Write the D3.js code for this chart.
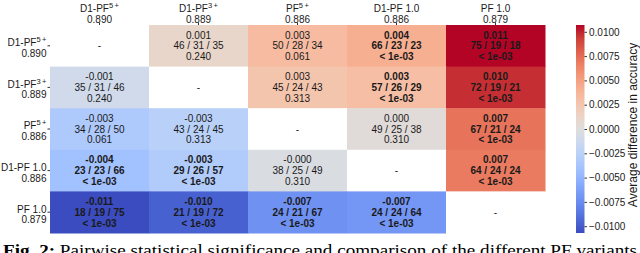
<!DOCTYPE html>
<html>
<head>
<meta charset="utf-8">
<script src="https://cdn.jsdelivr.net/npm/d3@7"></script>
<style>
  body { margin: 0; background: #fff; }
  svg { display: block; }
  text { font-family: "Liberation Sans", Arial, sans-serif; }
</style>
</head>
<body>
<div id="chart"></div>
<script>
// model names, superscripts and their mean accuracy
var modelNames = ["D1-PF", "D1-PF", "PF", "D1-PF 1.0", "PF 1.0"];
var modelSups = ["5\u2009+", "3\u2009+", "5\u2009+", "", ""];
var accuracies = ["0.890", "0.889", "0.886", "0.886", "0.879"];

// average difference in accuracy (row minus column), null on the diagonal
var diffs = [
    [null, 0.0010, 0.0033, 0.0041, 0.0107],
    [-0.0010, null, 0.0026, 0.0031, 0.0097],
    [-0.0033, -0.0026, null, 0.0003, 0.0072],
    [-0.0041, -0.0031, -0.0003, null, 0.0069],
    [-0.0107, -0.0097, -0.0072, -0.0069, null]
];

// wins / ties / losses
var counts = [
    [null, "46 / 31 / 35", "50 / 28 / 34", "66 / 23 / 23", "75 / 19 / 18"],
    ["35 / 31 / 46", null, "45 / 24 / 43", "57 / 26 / 29", "72 / 19 / 21"],
    ["34 / 28 / 50", "43 / 24 / 45", null, "49 / 25 / 38", "67 / 21 / 24"],
    ["23 / 23 / 66", "29 / 26 / 57", "38 / 25 / 49", null, "64 / 24 / 24"],
    ["18 / 19 / 75", "21 / 19 / 72", "24 / 21 / 67", "24 / 24 / 64", null]
];

// p-values (0 means < 1e-03)
var pvalues = [
    [null, 0.240, 0.061, 0, 0],
    [0.240, null, 0.313, 0, 0],
    [0.061, 0.313, null, 0.310, 0],
    [0, 0, 0.310, null, 0],
    [0, 0, 0, 0, null]
];

var cbTicks = [-0.01, -0.0075, -0.005, -0.0025, 0, 0.0025, 0.005, 0.0075, 0.01];
var vmax = 0.0107;

var width = 640, height = 253;
var textColor = "#1a1a1a";

// matplotlib coolwarm (Moreland table)
var coolwarm = d3.piecewise(d3.interpolateRgb, [
    "rgb(59,76,192)", "rgb(77,104,215)", "rgb(98,130,234)", "rgb(119,154,247)",
    "rgb(141,176,254)", "rgb(163,194,255)", "rgb(184,208,249)", "rgb(204,217,238)",
    "rgb(221,221,221)", "rgb(236,211,197)", "rgb(245,196,172)", "rgb(247,177,148)",
    "rgb(244,154,123)", "rgb(236,127,99)", "rgb(222,96,77)", "rgb(203,62,56)",
    "rgb(180,4,38)"
]);
var color = d3.scaleSequential(coolwarm).domain([-vmax, vmax]);

var svg = d3.select("#chart").append("svg")
    .attr("width", width)
    .attr("height", height);

var idx = d3.range(modelNames.length);

var x = d3.scaleBand().domain(idx).range([50, 545]);
var y = d3.scaleBand().domain(idx).range([25, 233]);

// cells
var cells = [];
idx.forEach(function(i) {
    idx.forEach(function(j) {
        cells.push({row: i, col: j, diff: diffs[i][j], count: counts[i][j], p: pvalues[i][j]});
    });
});

var cellG = svg.append("g")
    .selectAll("g")
    .data(cells)
    .enter().append("g")
    .attr("transform", function(d) {
        return "translate(" + x(d.col) + "," + y(d.row) + ")";
    });

cellG.append("rect")
    .attr("width", x.bandwidth() + 0.5)
    .attr("height", y.bandwidth() + 0.5)
    .attr("fill", function(d) {
        return d.diff === null ? "#fff" : color(d.diff);
    });

function fmtDiff(v) {
    return (v < 0 ? "-" : "") + Math.abs(v).toFixed(3);
}

var cx = x.bandwidth() / 2, cy = y.bandwidth() / 2;
var lh = 10.8;

cellG.each(function(d) {
    var g = d3.select(this);
    if (d.diff === null) {
        g.append("text")
            .attr("x", cx).attr("y", cy + 3.6)
            .attr("text-anchor", "middle")
            .style("font-size", "10px")
            .attr("fill", textColor)
            .text("-");
        return;
    }
    var sig = d.p < 0.05;
    var lines = [fmtDiff(d.diff), d.count, d.p === 0 ? "< 1e-03" : d.p.toFixed(3)];
    lines.forEach(function(s, k) {
        g.append("text")
            .attr("x", cx)
            .attr("y", cy + 3.6 + (k - 1) * lh)
            .attr("text-anchor", "middle")
            .style("font-size", "10px")
            .style("font-weight", sig ? "bold" : "normal")
            .attr("fill", textColor)
            .text(s);
    });
});

// axes (ticks only, labels drawn separately for the two-line layout)
var xAxis = d3.axisTop(x).tickSize(2.5).tickFormat("");
var yAxis = d3.axisLeft(y).tickSize(2.5).tickFormat("");

svg.append("g")
    .attr("transform", "translate(0,25)")
    .call(xAxis)
    .call(function(g) { g.select(".domain").remove(); })
    .selectAll(".tick line").attr("stroke", "#333");

svg.append("g")
    .attr("transform", "translate(50,0)")
    .call(yAxis)
    .call(function(g) { g.select(".domain").remove(); })
    .selectAll(".tick line").attr("stroke", "#333");

function addName(sel, i) {
    sel.append("tspan").text(modelNames[i]);
    if (modelSups[i]) {
        sel.append("tspan")
            .attr("dy", -4)
            .style("font-size", "7.5px")
            .text(modelSups[i]);
    }
}

var colLabels = svg.append("g").selectAll("g")
    .data(idx)
    .enter().append("g")
    .attr("transform", function(i) {
        return "translate(" + (x(i) + x.bandwidth() / 2) + ",0)";
    });

colLabels.append("text")
    .attr("y", 12)
    .attr("text-anchor", "middle")
    .style("font-size", "10px")
    .attr("fill", textColor)
    .each(function(i) { addName(d3.select(this), i); });

colLabels.append("text")
    .attr("y", 22.5)
    .attr("text-anchor", "middle")
    .style("font-size", "10px")
    .attr("fill", textColor)
    .text(function(i) { return accuracies[i]; });

var rowLabels = svg.append("g").selectAll("g")
    .data(idx)
    .enter().append("g")
    .attr("transform", function(i) {
        return "translate(46.5," + (y(i) + y.bandwidth() / 2) + ")";
    });

rowLabels.append("text")
    .attr("y", 0.3)
    .attr("text-anchor", "end")
    .style("font-size", "10px")
    .attr("fill", textColor)
    .each(function(i) { addName(d3.select(this), i); });

rowLabels.append("text")
    .attr("y", 11)
    .attr("text-anchor", "end")
    .style("font-size", "10px")
    .attr("fill", textColor)
    .text(function(i) { return accuracies[i]; });

// colorbar
var cb = d3.scaleLinear().domain([-vmax, vmax]).range([233, 25]);

var grad = svg.append("defs").append("linearGradient")
    .attr("id", "cbgrad")
    .attr("x1", 0).attr("y1", 1).attr("x2", 0).attr("y2", 0);

grad.selectAll("stop")
    .data(d3.range(0, 1.0001, 0.02))
    .enter().append("stop")
    .attr("offset", function(t) { return t; })
    .attr("stop-color", function(t) { return coolwarm(t); });

svg.append("rect")
    .attr("x", 576)
    .attr("y", 25)
    .attr("width", 8.5)
    .attr("height", 208)
    .attr("fill", "url(#cbgrad)");

svg.append("g")
    .attr("transform", "translate(584.5,0)")
    .style("font-size", "10px")
    .call(d3.axisRight(cb).tickValues(cbTicks).tickSize(2.5).tickPadding(2).tickFormat(d3.format(".4f")))
    .call(function(g) {
        g.select(".domain").remove();
        g.selectAll(".tick line").attr("stroke", "#333");
        g.selectAll(".tick text")
            .attr("fill", textColor)
            .style("font-family", "'Liberation Sans', Arial, sans-serif");
    });

svg.append("text")
    .attr("transform", "translate(636.5,125) rotate(-90)")
    .attr("text-anchor", "middle")
    .style("font-size", "12px")
    .attr("fill", textColor)
    .text("Average difference in accuracy");

// caption
var cap = svg.append("text")
    .attr("x", 3)
    .attr("y", 256)
    .attr("textLength", 634)
    .attr("lengthAdjust", "spacingAndGlyphs")
    .style("font-family", "'Liberation Serif', 'DejaVu Serif', serif")
    .style("font-size", "17.5px")
    .attr("fill", "#000");

cap.append("tspan").style("font-weight", "bold").text("Fig. 2:");
cap.append("tspan").text(" Pairwise statistical significance and comparison of the different PF variants");
</script>
</body>
</html>
